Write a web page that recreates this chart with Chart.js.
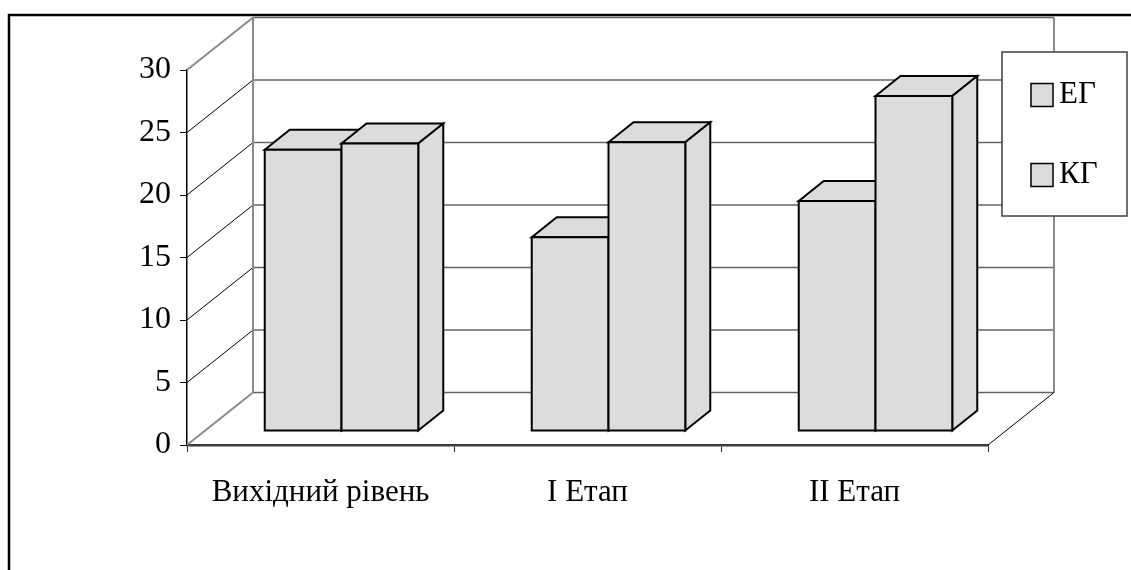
<!DOCTYPE html>
<html>
<head>
<meta charset="utf-8">
<script src="https://cdn.jsdelivr.net/npm/chart.js@4.4.1/dist/chart.umd.min.js"></script>
<style>
  html, body { margin: 0; padding: 0; background: #fff; }
  #wrap { width: 1131px; height: 570px; position: relative; }
</style>
</head>
<body>
<div id="wrap"><canvas id="chart3d"></canvas></div>
<script>
// categories and values
var categories = ['Вихідний рівень', 'І Етап', 'ІІ Етап'];
var seriesNames = ['ЕГ', 'КГ'];
var egValues = [22.5, 15.5, 18.4];
var kgValues = [23.0, 23.1, 26.8];
var yTicks = [0, 5, 10, 15, 20, 25, 30];

var barFill = '#dcdcdc';
var wallDepth = { x: 66, y: -52.5 };   // full depth of the floor / side wall
var barShift = { x: 21, y: -14 };      // front face of bars sits a bit back
var barDepth = { x: 25, y: -20 };      // thickness of the bars

Chart.defaults.font.family = "'Liberation Serif', 'Times New Roman', serif";
Chart.defaults.color = '#000';

var depthPlugin = {
    id: 'depthPlugin',
    beforeDraw: function (chart) {
        var ctx = chart.ctx;
        ctx.save();
        ctx.fillStyle = '#fff';
        ctx.fillRect(0, 0, chart.width, chart.height);
        ctx.restore();
    },
    beforeDatasetsDraw: function (chart) {
        var ctx = chart.ctx;
        var a = chart.chartArea;
        var ys = chart.scales.y;
        var dx = wallDepth.x, dy = wallDepth.y;
        var y0 = ys.getPixelForValue(0), yTop = ys.getPixelForValue(30);
        ctx.save();
        // back wall grid
        yTicks.forEach(function (v) {
            var y = ys.getPixelForValue(v);
            ctx.strokeStyle = '#636363';
            ctx.lineWidth = 1.6;
            ctx.beginPath();
            ctx.moveTo(a.left + dx, y + dy);
            ctx.lineTo(a.right + dx, y + dy);
            ctx.stroke();
            // left wall diagonals
            var edge = (v === 0 || v === 30);
            ctx.strokeStyle = edge ? '#8a8a8a' : '#000';
            ctx.lineWidth = edge ? 2 : 1;
            ctx.beginPath();
            ctx.moveTo(a.left, y);
            ctx.lineTo(a.left + dx, y + dy);
            ctx.stroke();
        });
        // wall edges
        ctx.strokeStyle = '#8a8a8a';
        ctx.lineWidth = 2;
        ctx.beginPath();
        ctx.moveTo(a.left + dx, y0 + dy);
        ctx.lineTo(a.left + dx, yTop + dy);
        ctx.moveTo(a.right + dx, y0 + dy);
        ctx.lineTo(a.right + dx, yTop + dy);
        ctx.stroke();
        // floor right edge
        ctx.strokeStyle = '#000';
        ctx.lineWidth = 1;
        ctx.beginPath();
        ctx.moveTo(a.right, y0);
        ctx.lineTo(a.right + dx, y0 + dy);
        ctx.stroke();
        ctx.restore();
    },
    afterDatasetsDraw: function (chart) {
        var ctx = chart.ctx;
        ctx.save();
        ctx.lineWidth = 2;
        ctx.strokeStyle = '#000';
        ctx.fillStyle = barFill;
        ctx.lineJoin = 'miter';
        for (var i = 0; i < categories.length; i++) {
            chart.data.datasets.forEach(function (ds, di) {
                var el = chart.getDatasetMeta(di).data[i];
                var l = el.x - el.width / 2 + barShift.x;
                var r = el.x + el.width / 2 + barShift.x;
                var t = el.y + barShift.y;
                var b = el.base + barShift.y;
                var bx = barDepth.x, by = barDepth.y;
                // top
                ctx.beginPath();
                ctx.moveTo(l, t);
                ctx.lineTo(l + bx, t + by);
                ctx.lineTo(r + bx, t + by);
                ctx.lineTo(r, t);
                ctx.closePath();
                ctx.fill(); ctx.stroke();
                // side
                ctx.beginPath();
                ctx.moveTo(r, t);
                ctx.lineTo(r + bx, t + by);
                ctx.lineTo(r + bx, b + by);
                ctx.lineTo(r, b);
                ctx.closePath();
                ctx.fill(); ctx.stroke();
                // front
                ctx.beginPath();
                ctx.rect(l, t, r - l, b - t);
                ctx.fill(); ctx.stroke();
            });
        }
        ctx.restore();
    },
    afterDraw: function (chart) {
        var ctx = chart.ctx;
        ctx.save();
        // outer frame
        ctx.strokeStyle = '#000';
        ctx.lineWidth = 2.5;
        ctx.beginPath();
        ctx.moveTo(9, chart.height);
        ctx.lineTo(9, 15);
        ctx.lineTo(chart.width, 15);
        ctx.stroke();
        // legend
        ctx.fillStyle = '#fff';
        ctx.fillRect(1002, 52, 125, 164);
        ctx.strokeStyle = '#404040';
        ctx.lineWidth = 1.5;
        ctx.strokeRect(1002, 52, 125, 164);
        ctx.font = "31px 'Liberation Serif', serif";
        ctx.textBaseline = 'middle';
        chart.data.datasets.forEach(function (ds, di) {
            var cy = 95 + di * 80;
            ctx.fillStyle = barFill;
            ctx.fillRect(1031, cy - 11.5, 22, 23);
            ctx.strokeStyle = '#000';
            ctx.lineWidth = 1.5;
            ctx.strokeRect(1031, cy - 11.5, 22, 23);
            ctx.fillStyle = '#000';
            ctx.fillText(ds.label, 1059, cy);
        });
        ctx.restore();
    }
};

var chart3d = new Chart(document.getElementById('chart3d'), {
    type: 'bar',
    data: {
        labels: categories,
        datasets: [
            {
                label: seriesNames[0],
                data: egValues,
                backgroundColor: 'rgba(0,0,0,0)',
                borderWidth: 0
            },
            {
                label: seriesNames[1],
                data: kgValues,
                backgroundColor: 'rgba(0,0,0,0)',
                borderWidth: 0
            }
        ]
    },
    options: {
        animation: false,
        responsive: true,
        maintainAspectRatio: false,
        datasets: {
            bar: { barPercentage: 1, categoryPercentage: 0.575 }
        },
        layout: { padding: { left: 0, top: 70, right: 143, bottom: 0 } },
        plugins: {
            legend: { display: false },
            tooltip: { enabled: false }
        },
        scales: {
            x: {
                afterFit: function (s) { s.height = 125; },
                grid: {
                    drawOnChartArea: false,
                    drawTicks: true,
                    tickLength: 7,
                    tickColor: '#222',
                    offset: true
                },
                border: { display: true, color: '#3a3a3a', width: 2.5 },
                ticks: {
                    font: { size: 31 },
                    color: '#000',
                    padding: 22,
                    maxRotation: 0
                }
            },
            y: {
                min: 0,
                max: 30,
                afterFit: function (s) { s.width = 187; },
                grid: {
                    drawOnChartArea: false,
                    drawTicks: true,
                    tickLength: 7,
                    tickColor: '#000'
                },
                border: { display: true, color: '#000', width: 1.5 },
                ticks: {
                    stepSize: 5,
                    font: { size: 32 },
                    color: '#000',
                    padding: 9
                }
            }
        }
    },
    plugins: [depthPlugin]
});
</script>
</body>
</html>
